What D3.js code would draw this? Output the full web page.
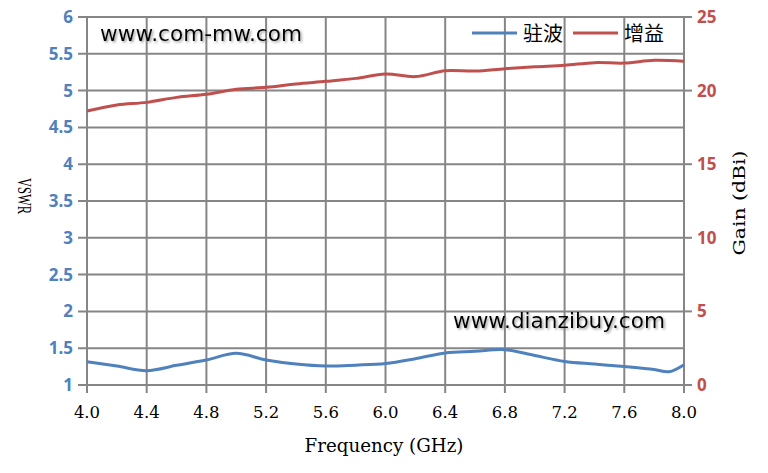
<!DOCTYPE html>
<html><head><meta charset="utf-8">
<script src="https://cdn.jsdelivr.net/npm/d3@7"></script>
<style>body{margin:0;background:#fff}svg{display:block}</style>
</head><body>
<svg id="c" width="768" height="473"></svg>
<script>
const xTicks = [4.0,4.4,4.8,5.2,5.6,6.0,6.4,6.8,7.2,7.6,8.0];
const vswrTicks = [1,1.5,2,2.5,3,3.5,4,4.5,5,5.5,6];
const gainTicks = [0,5,10,15,20,25];
const vswrFreq = [4.0,4.2,4.4,4.6,4.8,5.0,5.2,5.4,5.6,5.8,6.0,6.2,6.4,6.6,6.8,7.0,7.2,7.4,7.6,7.8,7.9,8.0];
const vswr     = [1.317,1.258,1.195,1.267,1.34,1.43,1.34,1.285,1.258,1.27,1.292,1.357,1.435,1.457,1.48,1.40,1.32,1.285,1.25,1.21,1.18,1.276];
const gainFreq = [4.0,4.2,4.4,4.6,4.8,5.0,5.2,5.4,5.6,5.8,6.0,6.2,6.4,6.6,6.8,7.0,7.2,7.4,7.6,7.8,8.0];
const gain     = [18.61,19.02,19.2,19.54,19.75,20.09,20.22,20.45,20.63,20.83,21.13,20.95,21.35,21.33,21.49,21.62,21.72,21.9,21.87,22.06,21.99];
const seriesNames = ["驻波","增益"];
const blue = "#4F81BD", red = "#C0504D", grid = "#868686";

const svg = d3.select("#c");
const L = 87, R = 684, T = 17, B = 385;
const x = d3.scaleLinear().domain([4,8]).range([L,R]);
const yL = d3.scaleLinear().domain([1,6]).range([B,T]);
const yR = d3.scaleLinear().domain([0,25]).range([B,T]);

const defs = svg.append("defs");
const f = defs.append("filter").attr("id","sh").attr("x","-10%").attr("y","-30%").attr("width","120%").attr("height","160%");
f.append("feDropShadow").attr("dx",1.5).attr("dy",1.5).attr("stdDeviation",1.2).attr("flood-color","#777").attr("flood-opacity",0.7);

const g = svg.append("g");
g.selectAll(".hx").data(vswrTicks).join("line")
  .attr("x1",L-9).attr("x2",R).attr("y1",d=>yL(d)).attr("y2",d=>yL(d))
  .attr("stroke",grid).attr("stroke-width",2);
g.selectAll(".vx").data(xTicks).join("line")
  .attr("x1",d=>x(d)).attr("x2",d=>x(d)).attr("y1",T).attr("y2",B+8)
  .attr("stroke",grid).attr("stroke-width",2);
g.selectAll(".rt").data(gainTicks).join("line")
  .attr("x1",R).attr("x2",R+8).attr("y1",d=>yR(d)).attr("y2",d=>yR(d))
  .attr("stroke",grid).attr("stroke-width",2);

svg.append("g").selectAll("text").data(vswrTicks).join("text")
  .attr("x",73).attr("y",d=>yL(d)+6).attr("text-anchor","end")
  .attr("font-family","Open Sans, sans-serif").attr("font-weight","bold").attr("font-size",17)
  .attr("fill",blue).text(d=>d);
svg.append("g").selectAll("text").data(gainTicks).join("text")
  .attr("x",697).attr("y",d=>yR(d)+6).attr("text-anchor","start")
  .attr("font-family","Open Sans, sans-serif").attr("font-weight","bold").attr("font-size",17)
  .attr("fill",red).text(d=>d);
svg.append("g").selectAll("text").data(xTicks).join("text")
  .attr("x",d=>x(d)).attr("y",418).attr("text-anchor","middle")
  .attr("font-family","DejaVu Serif, serif").attr("font-size",16.5)
  .attr("fill","#000").text(d=>d3.format(".1f")(d));

svg.append("text").attr("x",384).attr("y",452).attr("text-anchor","middle")
  .attr("font-family","DejaVu Serif, serif").attr("font-size",18)
  .attr("textLength",159).attr("lengthAdjust","spacingAndGlyphs")
  .text("Frequency (GHz)");
svg.append("text").attr("transform","translate(18,196) rotate(90)").attr("text-anchor","middle")
  .attr("font-family","Liberation Serif, serif").attr("font-size",19)
  .attr("textLength",36).attr("lengthAdjust","spacingAndGlyphs")
  .text("VSWR");
svg.append("text").attr("transform","translate(745,203) rotate(-90)").attr("text-anchor","middle")
  .attr("font-family","DejaVu Serif, serif").attr("font-size",17)
  .attr("textLength",105).attr("lengthAdjust","spacingAndGlyphs")
  .text("Gain (dBi)");

const lineV = d3.line().x((d,i)=>x(vswrFreq[i])).y(d=>yL(d)).curve(d3.curveCatmullRom.alpha(0.5));
const lineG = d3.line().x((d,i)=>x(gainFreq[i])).y(d=>yR(d)).curve(d3.curveCatmullRom.alpha(0.5));
svg.append("path").attr("d",lineG(gain)).attr("fill","none").attr("stroke",red).attr("stroke-width",3).attr("stroke-linejoin","round");
svg.append("path").attr("d",lineV(vswr)).attr("fill","none").attr("stroke",blue).attr("stroke-width",3).attr("stroke-linejoin","round");

const leg = svg.append("g");
const legItems = [{n:seriesNames[0],c:blue,x:472},{n:seriesNames[1],c:red,x:573}];
leg.selectAll("line").data(legItems).join("line")
  .attr("x1",d=>d.x).attr("x2",d=>d.x+45).attr("y1",33).attr("y2",33)
  .attr("stroke",d=>d.c).attr("stroke-width",3);
leg.selectAll("text").data(legItems).join("text")
  .attr("x",d=>d.x+51).attr("y",41)
  .attr("font-family","Noto Sans CJK SC, sans-serif").attr("font-size",20)
  .attr("fill","#000").text(d=>d.n);

svg.append("text").attr("x",100).attr("y",41).attr("font-family","DejaVu Sans, sans-serif")
  .attr("font-size",22).attr("textLength",202).attr("lengthAdjust","spacingAndGlyphs")
  .attr("fill","#000").attr("filter","url(#sh)").text("www.com-mw.com");
svg.append("text").attr("x",453).attr("y",328).attr("font-family","DejaVu Sans, sans-serif")
  .attr("font-size",22).attr("textLength",212).attr("lengthAdjust","spacingAndGlyphs")
  .attr("fill","#000").attr("filter","url(#sh)").text("www.dianzibuy.com");
</script>
</body></html>
